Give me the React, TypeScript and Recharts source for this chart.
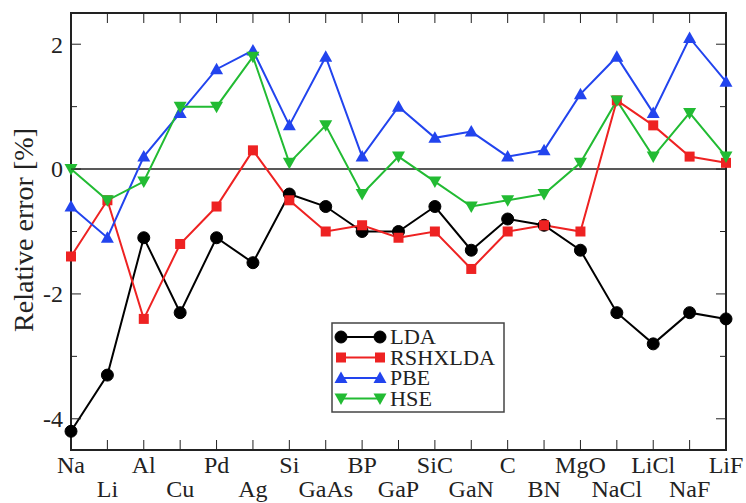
import React from "react";
import { LineChart, Line, XAxis, YAxis, ReferenceLine, ReferenceArea } from "recharts";

const categories = ["Na", "Li", "Al", "Cu", "Pd", "Ag", "Si", "GaAs", "BP", "GaP", "SiC", "GaN", "C", "BN", "MgO", "NaCl", "LiCl", "NaF", "LiF"];
const lda = [-4.2, -3.3, -1.1, -2.3, -1.1, -1.5, -0.4, -0.6, -1.0, -1.0, -0.6, -1.3, -0.8, -0.9, -1.3, -2.3, -2.8, -2.3, -2.4];
const rshxlda = [-1.4, -0.5, -2.4, -1.2, -0.6, 0.3, -0.5, -1.0, -0.9, -1.1, -1.0, -1.6, -1.0, -0.9, -1.0, 1.1, 0.7, 0.2, 0.1];
const pbe = [-0.6, -1.1, 0.2, 0.9, 1.6, 1.9, 0.7, 1.8, 0.2, 1.0, 0.5, 0.6, 0.2, 0.3, 1.2, 1.8, 0.9, 2.1, 1.4];
const hse = [0.0, -0.5, -0.2, 1.0, 1.0, 1.8, 0.1, 0.7, -0.4, 0.2, -0.2, -0.6, -0.5, -0.4, 0.1, 1.1, 0.2, 0.9, 0.2];
const yTicks = [-4, -3, -2, -1, 0, 1, 2];
const yLabeled = [-4, -2, 0, 2];
const yDomain = [-4.5, 2.5];

const data = categories.map((c, i) => ({ name: c, LDA: lda[i], RSHXLDA: rshxlda[i], PBE: pbe[i], HSE: hse[i] }));

const W = 746, H = 503;
const LEFT = 71, RIGHT = 726, TOP = 13, BOTTOM = 450;
const FONT = "Liberation Serif";
const TXT = { fontFamily: FONT };

const C_LDA = "#000000";
const C_RSH = "#ee2222";
const C_PBE = "#2244ee";
const C_HSE = "#22bb33";

type Kind = "circle" | "square" | "up" | "down";

function Marker({ kind, cx, cy, color }: { kind: Kind; cx: number; cy: number; color: string }) {
  if (kind === "circle") return <circle cx={cx} cy={cy} r={6} fill={color} stroke={color} />;
  if (kind === "square") return <rect x={cx - 5} y={cy - 5} width={10} height={10} fill={color} />;
  if (kind === "up") return <polygon points={`${cx - 6.5},${cy + 5} ${cx + 6.5},${cy + 5} ${cx},${cy - 6.5}`} fill={color} />;
  return <polygon points={`${cx - 6.5},${cy - 5} ${cx + 6.5},${cy - 5} ${cx},${cy + 6.5}`} fill={color} />;
}

const makeDot = (kind: Kind, color: string) => (props: any) => {
  const { cx, cy, index } = props;
  if (cx == null || cy == null) return <g key={index} />;
  return <Marker key={index} kind={kind} cx={cx} cy={cy} color={color} />;
};

const XTick = (props: any) => {
  const { x, payload, index } = props;
  const row2 = index % 2 === 1;
  return (
    <g>
      <line x1={x} x2={x} y1={BOTTOM} y2={BOTTOM - 10} stroke="#222" strokeWidth={1} />
      <line x1={x} x2={x} y1={TOP} y2={TOP + 10} stroke="#222" strokeWidth={1} />
      <text x={x} y={row2 ? 497 : 473} textAnchor="middle" fontFamily={FONT} style={TXT} fontSize={24} fill="#222">
        {payload.value}
      </text>
    </g>
  );
};

const YTick = (props: any) => {
  const { y, payload } = props;
  const major = yLabeled.includes(payload.value);
  const len = major ? 10 : 6;
  return (
    <g>
      <line x1={LEFT} x2={LEFT + len} y1={y} y2={y} stroke="#222" strokeWidth={1} />
      <line x1={RIGHT} x2={RIGHT - len} y1={y} y2={y} stroke="#222" strokeWidth={1} />
      {major && (
        <text x={63} y={y} dy="0.35em" textAnchor="end" fontFamily={FONT} style={TXT} fontSize={24} fill="#222">
          {payload.value}
        </text>
      )}
    </g>
  );
};

const series = [
  { key: "LDA", color: C_LDA, kind: "circle" as Kind, len: 46 },
  { key: "RSHXLDA", color: C_RSH, kind: "square" as Kind, len: 105 },
  { key: "PBE", color: C_PBE, kind: "up" as Kind, len: 40 },
  { key: "HSE", color: C_HSE, kind: "down" as Kind, len: 42 },
];

function LegendBox() {
  return (
    <svg width={175} height={92} style={{ position: "absolute", left: 331, top: 322 }}>
      <rect x={1} y={1} width={172} height={89} fill="#fff" stroke="#444" strokeWidth={1.5} />
      {series.map((s, i) => {
        const cy = 15 + i * 20.5;
        return (
          <g key={s.key}>
            <line x1={10} x2={49} y1={cy} y2={cy} stroke={s.color} strokeWidth={2} />
            <Marker kind={s.kind} cx={10} cy={cy} color={s.color} />
            <Marker kind={s.kind} cx={49} cy={cy} color={s.color} />
            <text
              x={59}
              y={cy + 7}
              fontFamily={FONT}
              style={TXT}
              fontSize={20}
              textLength={s.len}
              lengthAdjust="spacingAndGlyphs"
              fill="#222"
            >
              {s.key}
            </text>
          </g>
        );
      })}
    </svg>
  );
}

export default function App() {
  return (
    <div style={{ position: "absolute", left: 0, top: 0, width: W, height: H, background: "#fff" }}>
      <LineChart width={W} height={H} data={data} margin={{ top: TOP, right: W - RIGHT, bottom: 0, left: 0 }}>
        <XAxis
          dataKey="name"
          height={H - BOTTOM}
          interval={0}
          axisLine={false}
          tickLine={false}
          tickSize={0}
          tick={<XTick />}
        />
        <YAxis
          type="number"
          domain={yDomain}
          ticks={yTicks}
          width={LEFT}
          interval={0}
          axisLine={false}
          tickLine={false}
          tickSize={0}
          tick={<YTick />}
          allowDataOverflow
          label={{
            content: () => (
              <text
                x={33}
                y={230}
                transform="rotate(-90, 33, 230)"
                textAnchor="middle"
                fontFamily={FONT}
                style={TXT}
                fontSize={27}
                textLength={204}
                lengthAdjust="spacingAndGlyphs"
                fill="#222"
              >
                Relative error [%]
              </text>
            ),
          }}
        />
        <ReferenceLine y={0} stroke="#222" strokeWidth={1.5} />
        {series.map((s) => (
          <Line
            key={s.key}
            dataKey={s.key}
            stroke={s.color}
            strokeWidth={2}
            dot={makeDot(s.kind, s.color)}
            activeDot={false}
            isAnimationActive={false}
          />
        ))}
        <ReferenceArea
          x1={categories[0]}
          x2={categories[categories.length - 1]}
          y1={yDomain[0]}
          y2={yDomain[1]}
          fill="none"
          fillOpacity={0}
          stroke="#222"
          strokeWidth={2}
        />
      </LineChart>
      <LegendBox />
    </div>
  );
}
